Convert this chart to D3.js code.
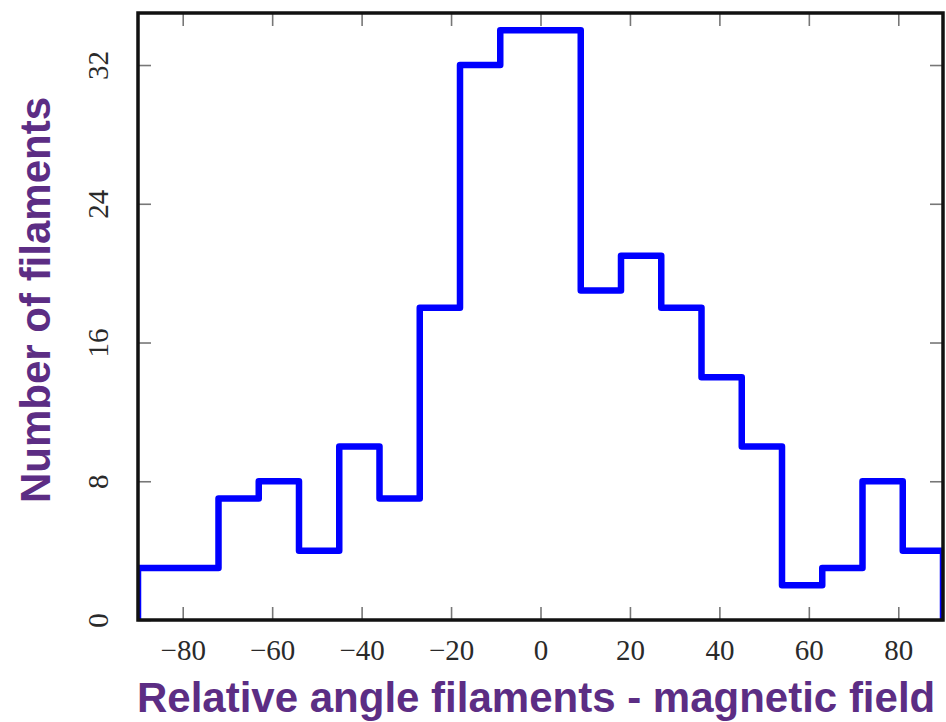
<!DOCTYPE html>
<meta charset="utf-8">
<style>
  body { margin: 0; background: #fff; }
  .tick text { font-family: "Liberation Serif", "DejaVu Serif", serif; fill: #2a2a2a; }
  .title { font-family: "Liberation Sans", Arial, sans-serif; font-weight: bold; fill: #5c2d84; }
</style>
<body>
<script src="https://d3js.org/d3.v7.min.js"></script>
<script>

// bin edges (degrees) and counts per bin
var binEdges = [-90, -81, -72, -63, -54, -45, -36, -27, -18, -9, 0, 9, 18, 27, 36, 45, 54, 63, 72, 81, 90];
var counts = [3, 3, 7, 8, 4, 10, 7, 18, 32, 34, 34, 19, 21, 18, 14, 10, 2, 3, 8, 4];
var xTicks = [-80, -60, -40, -20, 0, 20, 40, 60, 80];
var yTicks = [0, 8, 16, 24, 32];

var width = 946, height = 722;
var margin = {top: 13, right: 3, bottom: 102, left: 138};

var svg = d3.select("body").append("svg")
    .attr("width", width)
    .attr("height", height);

var x = d3.scaleLinear()
    .domain([-90, 90])
    .range([margin.left, width - margin.right]);

var y = d3.scaleLinear()
    .domain([0, 35])
    .range([height - margin.bottom, margin.top]);

// step outline of the histogram, dropping to zero at both ends
var pts = [[binEdges[0], 0]];
counts.forEach(function(c, i) {
  pts.push([binEdges[i], c]);
  pts.push([binEdges[i + 1], c]);
});
pts.push([binEdges[binEdges.length - 1], 0]);

svg.append("clipPath").attr("id", "plot")
  .append("rect")
    .attr("x", x(-90)).attr("y", y(35))
    .attr("width", x(90) - x(-90)).attr("height", y(0) - y(35));

svg.append("path")
    .datum(pts)
    .attr("clip-path", "url(#plot)")
    .attr("fill", "none")
    .attr("stroke", "#0000ff")
    .attr("stroke-width", 6.5)
    .attr("stroke-linejoin", "round")
    .attr("d", d3.line().x(function(d) { return x(d[0]); }).y(function(d) { return y(d[1]); }));

// axes with inward ticks
var fmt = function(d) { return d < 0 ? "\u2212" + Math.abs(d) : d; };
var tk = 13;

var xb = svg.append("g")
    .attr("transform", "translate(0," + y(0) + ")")
    .call(d3.axisBottom(x).tickValues(xTicks).tickFormat(fmt).tickSizeInner(-tk).tickSizeOuter(0).tickPadding(20));
xb.selectAll(".tick text").attr("font-size", 29).attr("dy", "0.71em").attr("y", 19);

svg.append("g")
    .attr("transform", "translate(0," + y(35) + ")")
    .call(d3.axisTop(x).tickValues(xTicks).tickFormat("").tickSizeInner(-tk).tickSizeOuter(0));

var yl = svg.append("g")
    .attr("transform", "translate(" + x(-90) + ",0)")
    .call(d3.axisLeft(y).tickValues(yTicks).tickSizeInner(-tk).tickSizeOuter(0).tickPadding(0));
yl.selectAll(".tick text")
    .attr("font-size", 29)
    .attr("x", null)
    .attr("text-anchor", "middle")
    .attr("transform", "translate(-40,0) rotate(-90)")
    .attr("dy", "0.35em");

svg.append("g")
    .attr("transform", "translate(" + x(90) + ",0)")
    .call(d3.axisRight(y).tickValues(yTicks).tickFormat("").tickSizeInner(-tk).tickSizeOuter(0));

svg.selectAll(".tick line").attr("stroke", "#777").attr("stroke-width", 1.6);
svg.selectAll(".domain").remove();

// frame
svg.append("rect")
    .attr("x", x(-90)).attr("y", y(35))
    .attr("width", x(90) - x(-90)).attr("height", y(0) - y(35))
    .attr("fill", "none")
    .attr("stroke", "#111")
    .attr("stroke-width", 3.5);

// axis titles
svg.append("text")
    .attr("class", "title")
    .attr("x", 137).attr("y", 712)
    .attr("font-size", 42)
    .text("Relative angle filaments - magnetic field");

svg.append("text")
    .attr("class", "title")
    .attr("transform", "translate(50,300) rotate(-90)")
    .attr("text-anchor", "middle")
    .attr("font-size", 42)
    .text("Number of filaments");

</script>
</body>
